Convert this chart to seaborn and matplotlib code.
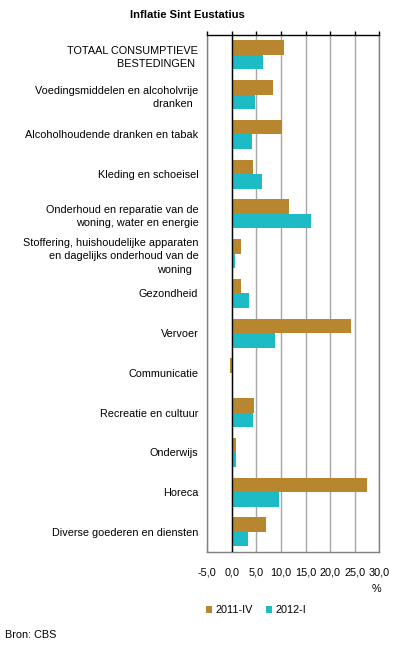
import numpy as np
import pandas as pd
import matplotlib
matplotlib.use('Agg')
import matplotlib.pyplot as plt
from matplotlib.patches import Patch
import seaborn as sns

# data
categorieen = [
    "TOTAAL CONSUMPTIEVE\nBESTEDINGEN ",
    "Voedingsmiddelen en alcoholvrije\ndranken  ",
    "Alcoholhoudende dranken en tabak",
    "Kleding en schoeisel",
    "Onderhoud en reparatie van de\nwoning, water en energie",
    "Stoffering, huishoudelijke apparaten\nen dagelijks onderhoud van de\nwoning  ",
    "Gezondheid",
    "Vervoer",
    "Communicatie",
    "Recreatie en cultuur",
    "Onderwijs",
    "Horeca",
    "Diverse goederen en diensten",
]
perioden = ["2011-IV", "2012-I"]
waarden_2011_IV = [10.7, 8.3, 10.1, 4.2, 11.7, 1.9, 1.9, 24.2, -0.3, 4.6, 0.9, 27.4, 7.0]
waarden_2012_I = [6.4, 4.8, 4.0, 6.2, 16.0, 0.7, 3.4, 8.7, 0.0, 4.2, 0.9, 9.5, 3.2]
x_ticks = [-5, 0, 5, 10, 15, 20, 25, 30]

kleuren = {"2011-IV": "#B98630", "2012-I": "#1CBBC5"}

df = pd.DataFrame({
    "categorie": categorieen * 2,
    "periode": [perioden[0]] * len(categorieen) + [perioden[1]] * len(categorieen),
    "waarde": waarden_2011_IV + waarden_2012_I,
})

sns.set_style("white")
plt.rcParams['font.family'] = ['Liberation Sans', 'DejaVu Sans']
plt.rcParams['text.color'] = 'black'
plt.rcParams['xtick.color'] = 'black'
plt.rcParams['ytick.color'] = 'black'

fig = plt.figure(figsize=(3.96, 6.47), dpi=100)
ax = fig.add_axes([207.3 / 396, 1 - 551.7 / 647, 172 / 396, (551.7 - 35) / 647])

sns.barplot(data=df, x="waarde", y="categorie", hue="periode", order=categorieen,
            hue_order=perioden, palette=kleuren, orient="h", width=0.73,
            saturation=1, legend=False, linewidth=0, ax=ax, zorder=3)

ax.set_xlim(-5, 30)
ax.set_ylim(len(categorieen) - 0.5, -0.5)
ax.set_xticks(x_ticks)
ax.set_xticklabels([f"{v:.1f}".replace(".", ",") for v in x_ticks], fontsize=7.8)
ax.set_xlabel("")
ax.set_ylabel("")
ax.grid(axis="x", color="#A6A6A6", linewidth=1, zorder=0)
ax.grid(axis="y", visible=False)
ax.axvline(0, color="black", linewidth=1, zorder=4)

ax.tick_params(axis="x", top=True, bottom=False, labeltop=False, labelbottom=True,
               direction="out", length=3, width=1, colors="black", pad=8.5)
ax.tick_params(axis="y", left=False, length=0, pad=6.5, labelsize=7.8, colors="black")
for lbl in ax.get_yticklabels():
    lbl.set_linespacing(1.45)

for s in ["left", "right", "bottom"]:
    ax.spines[s].set_color("#808080")
    ax.spines[s].set_linewidth(1)
ax.spines["top"].set_color("black")
ax.spines["top"].set_linewidth(1)

fig.text(187 / 396, 1 - 15 / 647, "Inflatie Sint Eustatius", ha="center", va="center",
         fontsize=8.1, fontweight="bold")
fig.text(376 / 396, 1 - 589 / 647, "%", ha="center", va="center", fontsize=7.8)
fig.text(5 / 396, 1 - 635 / 647, "Bron: CBS", ha="left", va="center", fontsize=7.8)

handles = [Patch(facecolor=kleuren[p], edgecolor="none") for p in perioden]
fig.legend(handles, perioden, loc="center", bbox_to_anchor=(256 / 396, 1 - 610 / 647),
           ncol=2, frameon=False, fontsize=7.8, handlelength=0.6, handleheight=0.6,
           handletextpad=0.3, columnspacing=1.2)

fig.savefig("out.png", dpi=100)
